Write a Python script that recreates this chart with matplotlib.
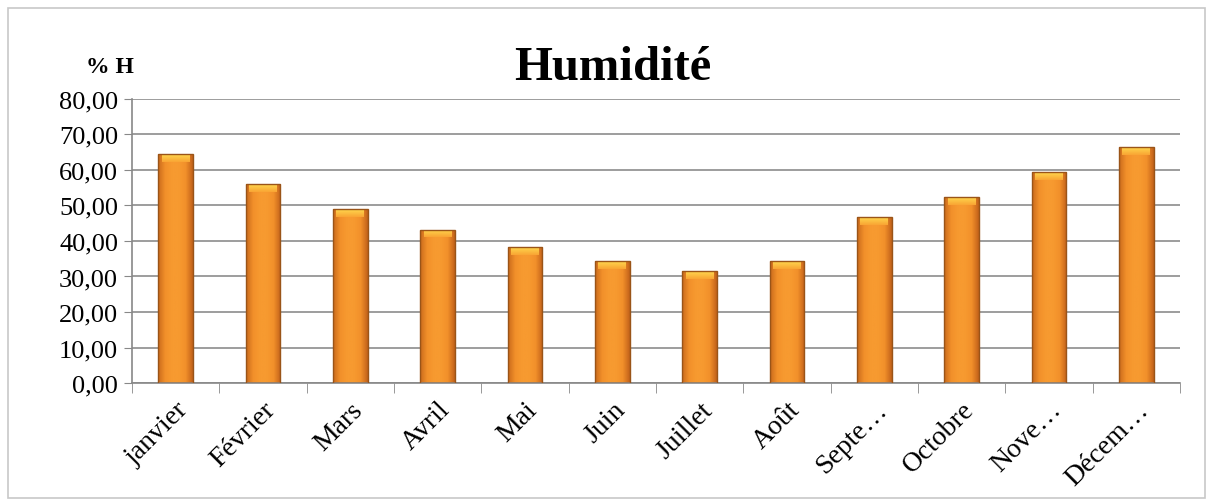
import matplotlib.pyplot as plt
import numpy as np
from matplotlib import colors, transforms
from matplotlib.patches import Rectangle

months = ["janvier", "Février", "Mars", "Avril", "Mai", "Juin", "Juillet",
          "Août", "Septe…", "Octobre", "Nove…", "Décem…"]
humidity = [64.5, 56.1, 49.0, 43.2, 38.3, 34.4, 31.5, 34.4, 46.8, 52.4, 59.5, 66.5]
yticks = [0, 10, 20, 30, 40, 50, 60, 70, 80]

plt.rcParams["font.family"] = ["Liberation Serif", "DejaVu Serif"]

fig = plt.figure(figsize=(12.13, 5.02), dpi=100)
fig.patches.append(Rectangle((0.007, 0.005), 0.986, 0.978, transform=fig.transFigure,
                             fill=False, edgecolor="#c8c8c8", linewidth=1.2))

ax = fig.add_axes([0.1088, 0.235, 0.864, 0.566])
ax.set_xlim(-0.5, len(months) - 0.5)
ax.set_ylim(0, 80)

# orange gradient across each bar, darker at the edges
cmap = colors.LinearSegmentedColormap.from_list(
    "bar", ["#c96a1c", "#f2902a", "#f79a30", "#f79a30", "#f2902a", "#c2621a"])
grad = np.linspace(0, 1, 64).reshape(1, -1)
cap = colors.LinearSegmentedColormap.from_list("cap", ["#ffd84e", "#f9a534"])
capgrad = np.linspace(0, 1, 32).reshape(-1, 1)

width = 0.4
bars = ax.bar(range(len(months)), humidity, width=width, color="none",
              edgecolor="#9a5418", linewidth=1.0, zorder=3)
for b, v in zip(bars, humidity):
    x0 = b.get_x()
    im = ax.imshow(grad, cmap=cmap, aspect="auto", extent=(x0, x0 + width, 0, v),
                   zorder=2)
    im.set_clip_path(b)
    top = ax.imshow(capgrad, cmap=cap, aspect="auto",
                    extent=(x0 + 0.04, x0 + width - 0.04, v - 2.2, v - 0.2), zorder=2.5)
    top.set_clip_path(b)

ax.set_yticks(yticks)
ax.set_yticklabels([f"{t:.2f}".replace(".", ",") for t in yticks], fontsize=19)
ax.set_xticks(range(len(months)))
ax.set_xticklabels(months, rotation=45, ha="right", rotation_mode="anchor",
                   fontsize=20)
shift = transforms.ScaledTranslation(20 / 100, 0, fig.dpi_scale_trans)
for lbl in ax.get_xticklabels():
    lbl.set_transform(lbl.get_transform() + shift)
ax.tick_params(axis="x", length=0, pad=10)
ax.tick_params(axis="y", length=6, color="#888888", pad=4, direction="out")
ax.set_xticks(np.arange(-0.5, len(months)), minor=True)
ax.tick_params(axis="x", which="minor", length=7, color="#888888", direction="out")

ax.yaxis.grid(True, color="#8c8c8c", linewidth=1.2, zorder=0)
ax.set_axisbelow(True)
for s in ["top", "right"]:
    ax.spines[s].set_visible(False)
ax.spines["left"].set_color("#888888")
ax.spines["bottom"].set_color("#888888")
ax.spines["left"].set_linewidth(1.2)
ax.spines["bottom"].set_linewidth(1.2)

fig.text(0.505, 0.84, "Humidité", ha="center", va="baseline", fontsize=35,
         fontweight="bold")
fig.text(0.071, 0.855, "% H", ha="left", va="baseline", fontsize=17,
         fontweight="bold")

fig.savefig("out.png", dpi=100)
